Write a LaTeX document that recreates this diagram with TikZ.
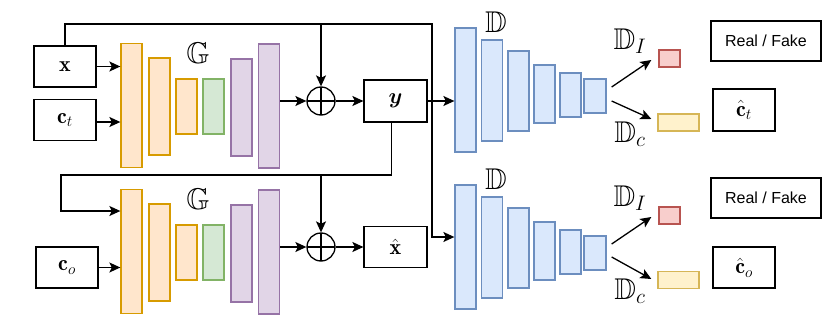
\documentclass[tikz,border=0pt]{standalone}
\usepackage{fix-cm}
\usepackage{amsmath,amssymb,bm}
\usepackage{fontspec}
\newfontfamily\arialf{Liberation Sans}
\usepackage{tikz}
\usetikzlibrary{arrows.meta,calc}
\DeclareFontFamily{U}{msb}{}
\DeclareFontShape{U}{msb}{m}{n}{<-> msbm10}{}
\definecolor{naranjaF}{HTML}{FFE6CC}
\definecolor{naranja}{HTML}{D79B00}
\definecolor{verdeF}{HTML}{D5E8D4}
\definecolor{verde}{HTML}{82B366}
\definecolor{moradoF}{HTML}{E1D5E7}
\definecolor{morado}{HTML}{9673A6}
\definecolor{azulF}{HTML}{DAE8FC}
\definecolor{azul}{HTML}{6C8EBF}
\definecolor{rojoF}{HTML}{F8CECC}
\definecolor{rojo}{HTML}{B85450}
\definecolor{amarilloF}{HTML}{FFF2CC}
\definecolor{amarillo}{HTML}{D6B656}
\tikzset{
	inbox/.style={draw=black,line width=1.2pt,minimum width=62pt,minimum height=41pt,inner sep=0pt,font=\fontsize{22}{26}\selectfont},
	layer/.style={draw=#1,line width=1.3pt,minimum width=21pt,inner sep=0pt},
	arr/.style={-{Stealth[length=11pt,width=10pt,inset=2.5pt]},line width=1.3pt},
	bbl/.style={inner sep=0pt,font=\fontsize{30}{36}\selectfont},
	sumop/.style={circle,draw=black,line width=1.3pt,minimum size=28pt,inner sep=0pt,
		path picture={\draw[line width=1.3pt] (path picture bounding box.north) -- (path picture bounding box.south)
			(path picture bounding box.west) -- (path picture bounding box.east);}}
}

\begin{document}
\begin{tikzpicture}[x=1pt,y=-1pt]
	\useasboundingbox (0,0) rectangle (830,321);
	% entradas
	\node[inbox] (xin) at (65,66.5) {$\mathbf{x}$};
	\node[inbox] (ct) at (65,120) {$\mathbf{c}_t$};
	\node[inbox] (co) at (67,267.5) {$\mathbf{c}_o$};
	% generador arriba
	\node[layer=naranja,fill=naranjaF,minimum height=124pt] (ga1) at (131.5,105.5) {};
	\node[layer=naranja,fill=naranjaF,minimum height=97pt] (ga2) at (159.5,106.5) {};
	\node[layer=naranja,fill=naranjaF,minimum height=55pt] (ga3) at (186.5,106.5) {};
	\node[layer=verde,fill=verdeF,minimum height=55pt] (ga4) at (213.5,106.5) {};
	\node[layer=morado,fill=moradoF,minimum height=97pt] (ga5) at (241.5,107.5) {};
	\node[layer=morado,fill=moradoF,minimum height=124pt] (ga6) at (269,106) {};
	\node[bbl] (gla) at (198,53) {$\mathbb{G}$};
	% generador abajo
	\node[layer=naranja,fill=naranjaF,minimum height=124pt] (gl1) at (131.5,251.5) {};
	\node[layer=naranja,fill=naranjaF,minimum height=97pt] (gl2) at (159.5,252.5) {};
	\node[layer=naranja,fill=naranjaF,minimum height=55pt] (gl3) at (186.5,252.5) {};
	\node[layer=verde,fill=verdeF,minimum height=55pt] (gl4) at (213.5,252.5) {};
	\node[layer=morado,fill=moradoF,minimum height=97pt] (gl5) at (241.5,253.5) {};
	\node[layer=morado,fill=moradoF,minimum height=124pt] (gl6) at (269,252) {};
	\node[bbl] (glb) at (198,199) {$\mathbb{G}$};
	% sumas y salidas
	\node[sumop] (op1) at (321,101) {};
	\node[sumop] (op2) at (321,247) {};
	\node[inbox,minimum width=63pt,minimum height=42pt] (ybox) at (395.5,101) {$\bm{y}$};
	\node[inbox,minimum width=63pt] (xhat) at (395.5,247) {$\hat{\mathbf{x}}$};
	% discriminador arriba
	\node[layer=azul,fill=azulF,minimum height=124pt] (da1) at (465.5,90) {};
	\node[layer=azul,fill=azulF,minimum height=101pt] (da2) at (492,90.5) {};
	\node[layer=azul,fill=azulF,minimum height=80pt] (da3) at (518.5,91) {};
	\node[layer=azul,fill=azulF,minimum height=58pt] (da4) at (544.5,94) {};
	\node[layer=azul,fill=azulF,minimum height=44pt] (da5) at (570.5,95) {};
	\node[layer=azul,fill=azulF,minimum height=34pt,minimum width=22pt] (da6) at (595,96) {};
	\node[bbl] (dla) at (496,22) {$\mathbb{D}$};
	% discriminador abajo
	\node[layer=azul,fill=azulF,minimum height=124pt] (dl1) at (465.5,247) {};
	\node[layer=azul,fill=azulF,minimum height=101pt] (dl2) at (492,247.5) {};
	\node[layer=azul,fill=azulF,minimum height=80pt] (dl3) at (518.5,248) {};
	\node[layer=azul,fill=azulF,minimum height=58pt] (dl4) at (544.5,251) {};
	\node[layer=azul,fill=azulF,minimum height=44pt] (dl5) at (570.5,252) {};
	\node[layer=azul,fill=azulF,minimum height=34pt,minimum width=22pt] (dl6) at (595,253) {};
	\node[bbl] (dlb) at (496,179) {$\mathbb{D}$};
	% cabezas
	\node[layer=rojo,fill=rojoF,minimum height=17pt] (ri1) at (669.5,58.5) {};
	\node[layer=amarillo,fill=amarilloF,minimum height=17pt,minimum width=41pt] (ye1) at (678.5,122.5) {};
	\node[layer=rojo,fill=rojoF,minimum height=17pt] (ri2) at (669.5,215.5) {};
	\node[layer=amarillo,fill=amarilloF,minimum height=17pt,minimum width=41pt] (ye2) at (678.5,280) {};
	\node[bbl] (dia) at (630,41) {$\mathbb{D}_I$};
	\node[bbl] (dca) at (630,134) {$\mathbb{D}_c$};
	\node[bbl] (dib) at (630,198) {$\mathbb{D}_I$};
	\node[bbl] (dcb) at (630,291) {$\mathbb{D}_c$};
	\node[inbox,minimum width=110pt,minimum height=40pt,font=\arialf\fontsize{16}{19}\selectfont] (rfa) at (766,41) {Real / Fake};
	\node[inbox,minimum height=42pt] (cta) at (744,110) {$\hat{\mathbf{c}}_t$};
	\node[inbox,minimum width=110pt,minimum height=40pt,font=\arialf\fontsize{16}{19}\selectfont] (rfb) at (766,198) {Real / Fake};
	\node[inbox,minimum height=41pt] (cob) at (744,267.5) {$\hat{\mathbf{c}}_o$};
	% conexiones
	\coordinate (tr) at (432,24);
	\coordinate (yl) at (61,175);
	\draw[arr] (xin.east) -- (xin.east -| ga1.west);
	\draw[arr] ([yshift=-2pt]ct.east) -- ([yshift=-2pt]ct.east -| ga1.west);
	\draw[arr] (co.east) -- (co.east -| gl1.west);
	\draw[arr] (op1 -| ga6.east) -- (op1.west);
	\draw[arr] (op2 -| gl6.east) -- (op2.west);
	\draw[arr] (op1.east) -- (ybox.west);
	\draw[arr] (op2.east) -- (xhat.west);
	\draw[arr] (ybox.east) -- (ybox.east -| da1.west);
	\draw[arr] (xin.north) |- (tr) |- ([yshift=10pt]dl1.west);
	\draw[arr] (op1.north |- tr) -- (op1.north);
	\draw[arr] ([xshift=-4pt]ybox.south) |- (yl) |- ([yshift=40.5pt]gl1.west);
	\draw[arr] (op2.north |- yl) -- (op2.north);
	\draw[arr] ([xshift=5pt,yshift=9pt]da6.east) -- ([xshift=-7pt,yshift=-1.5pt]ri1.west);
	\draw[arr] ([xshift=5pt,yshift=-5pt]da6.east) -- ([xshift=-6pt,yshift=3.5pt]ye1.west);
	\draw[arr] ([xshift=5pt,yshift=9pt]dl6.east) -- ([xshift=-7pt,yshift=-1.5pt]ri2.west);
	\draw[arr] ([xshift=5pt,yshift=-4pt]dl6.east) -- ([xshift=-6pt,yshift=1pt]ye2.west);
\end{tikzpicture}
\end{document}
